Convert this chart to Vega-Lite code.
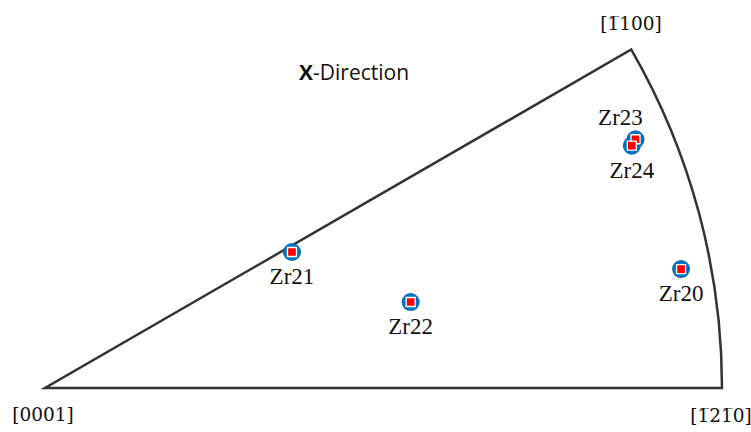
{
  "$schema": "https://vega.github.io/schema/vega-lite/v6.json",
  "width": 751,
  "height": 432,
  "autosize": "none",
  "padding": 0,
  "background": "white",
  "config": {"view": {"stroke": null}},
  "datasets": {
    "origin": [{"x": 0, "y": 0}],
    "grains": [
      {"name": "Zr20", "x": 0.9395, "y": 0.1757, "side": "below"},
      {"name": "Zr21", "x": 0.3648, "y": 0.2009, "side": "below"},
      {"name": "Zr22", "x": 0.5401, "y": 0.1270, "side": "below"},
      {"name": "Zr23", "x": 0.8722, "y": 0.3674, "side": "above"},
      {"name": "Zr24", "x": 0.8668, "y": 0.3579, "side": "below"}
    ],
    "corners": [
      {"label": "[0001]", "x": -0.003, "y": -0.0399},
      {"label": "[1̅100]", "x": 0.8656, "y": 0.5377},
      {"label": "[1̅21̅0]", "x": 0.9985, "y": -0.0413}
    ],
    "title": [{"x": 0.3959, "y": 0.4638, "a": "X", "b": "-Direction"}]
  },
  "layer": [
    {
      "data": {"name": "origin"},
      "mark": {"type": "arc", "theta": 1.0471976, "theta2": 1.5707963, "outerRadius": 677, "innerRadius": 0, "filled": false, "color": "#333333", "strokeWidth": 2.5, "strokeJoin": "miter"},
      "encoding": {
        "x": {"field": "x", "type": "quantitative", "scale": {"domain": [-0.06647, 1.04284], "nice": false, "zero": false}, "axis": null},
        "y": {"field": "y", "type": "quantitative", "scale": {"domain": [-0.06499, 0.57312], "nice": false, "zero": false}, "axis": null}
      }
    },
    {
      "data": {"name": "grains"},
      "mark": {"type": "point", "shape": "circle", "filled": true, "color": "#0072BD", "opacity": 1, "size": 324},
      "encoding": {
        "x": {"field": "x", "type": "quantitative"},
        "y": {"field": "y", "type": "quantitative"}
      }
    },
    {
      "data": {"name": "grains"},
      "mark": {"type": "point", "shape": "square", "filled": true, "color": "#FF0000", "opacity": 1, "size": 81, "stroke": "white", "strokeWidth": 1.3},
      "encoding": {
        "x": {"field": "x", "type": "quantitative"},
        "y": {"field": "y", "type": "quantitative"}
      }
    },
    {
      "data": {"name": "grains"},
      "transform": [{"filter": "datum.side == 'below'"}],
      "mark": {"type": "text", "font": "Liberation Serif", "fontSize": 23, "color": "#111111", "baseline": "middle", "align": "center", "dy": 25},
      "encoding": {
        "x": {"field": "x", "type": "quantitative"},
        "y": {"field": "y", "type": "quantitative"},
        "text": {"field": "name"}
      }
    },
    {
      "data": {"name": "grains"},
      "transform": [{"filter": "datum.side == 'above'"}],
      "mark": {"type": "text", "font": "Liberation Serif", "fontSize": 23, "color": "#111111", "baseline": "middle", "align": "center", "dx": -15, "dy": -21},
      "encoding": {
        "x": {"field": "x", "type": "quantitative"},
        "y": {"field": "y", "type": "quantitative"},
        "text": {"field": "name"}
      }
    },
    {
      "data": {"name": "corners"},
      "mark": {"type": "text", "font": "DejaVu Serif", "fontSize": 18.5, "color": "#111111", "baseline": "middle", "align": "center"},
      "encoding": {
        "x": {"field": "x", "type": "quantitative"},
        "y": {"field": "y", "type": "quantitative"},
        "text": {"field": "label"}
      }
    },
    {
      "data": {"name": "title"},
      "mark": {"type": "text", "font": "Open Sans", "fontSize": 21, "fontWeight": "bold", "color": "#111111", "baseline": "middle", "align": "right"},
      "encoding": {
        "x": {"field": "x", "type": "quantitative"},
        "y": {"field": "y", "type": "quantitative"},
        "text": {"field": "a"}
      }
    },
    {
      "data": {"name": "title"},
      "mark": {"type": "text", "font": "Open Sans", "fontSize": 21, "color": "#111111", "baseline": "middle", "align": "left"},
      "encoding": {
        "x": {"field": "x", "type": "quantitative"},
        "y": {"field": "y", "type": "quantitative"},
        "text": {"field": "b"}
      }
    }
  ]
}
